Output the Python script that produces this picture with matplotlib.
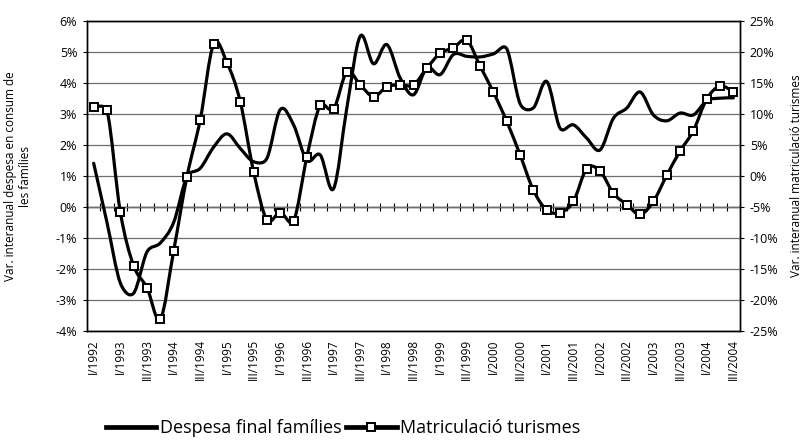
import matplotlib
matplotlib.use("Agg")
import matplotlib.pyplot as plt
from matplotlib.path import Path
from matplotlib.patches import PathPatch
from matplotlib.lines import Line2D
import numpy as np

plt.rcParams['font.family'] = ['Open Sans', 'DejaVu Sans']

# etiquetes de l'eix x (una cada dues categories)
etiquetes = ["I/1992", "I/1993", "III/1993", "I/1994", "III/1994", "I/1995",
             "III/1995", "I/1996", "III/1996", "I/1997", "III/1997", "I/1998",
             "III/1998", "I/1999", "III/1999", "I/2000", "III/2000", "I/2001",
             "III/2001", "I/2002", "III/2002", "I/2003", "III/2003", "I/2004",
             "III/2004"]

# variacio interanual despesa final families (%), eix esquerre
despesa = [1.41, -0.5, -2.45, -2.78, -1.45, -1.16, -0.5, 0.98, 1.25, 1.93,
           2.36, 1.89, 1.46, 1.57, 3.14, 2.65, 1.5, 1.68, 0.59, 3.2,
           5.51, 4.62, 5.24, 4.16, 3.62, 4.49, 4.27, 4.92, 4.86, 4.84,
           4.94, 5.1, 3.33, 3.2, 4.05, 2.54, 2.65, 2.22, 1.84, 2.86,
           3.19, 3.71, 2.97, 2.78, 3.03, 2.97, 3.43, 3.51, 3.52]

# variacio interanual matriculacio turismes (%), eix dret
matric = [11.2, 10.6, -5.8, -14.5, -18.0, -23.1, -12.1, -0.1, 9.1, 21.3,
          18.3, 12.0, 0.7, -7.1, -5.9, -7.3, 3.1, 11.4, 10.8, 16.8,
          14.7, 12.8, 14.4, 14.7, 14.7, 17.4, 19.8, 20.7, 21.9, 17.7,
          13.5, 8.8, 3.4, -2.3, -5.5, -5.9, -4.1, 1.2, 0.8, -2.8,
          -4.6, -6.2, -4.1, 0.1, 4.0, 7.3, 12.4, 14.5, 13.6]

x = np.arange(len(despesa))


def corba_suau(eix, xs, ys):
    # linia suavitzada a l'estil d'Excel: Bezier cubica calculada en pixels
    p = eix.transData.transform(np.column_stack([xs, ys]))
    n = len(p)
    verts = [p[0]]
    codes = [Path.MOVETO]
    for i in range(n - 1):
        p0 = p[i - 1] if i > 0 else p[i]
        p1 = p[i]
        p2 = p[i + 1]
        p3 = p[i + 2] if i + 2 < n else p[i + 1]
        d12 = np.hypot(*(p2 - p1))
        d02 = np.hypot(*(p2 - p0))
        d13 = np.hypot(*(p3 - p1))
        c1, c2 = p1.copy(), p2.copy()
        if d02 > 0:
            c1 = p1 + (p2 - p0) / d02 * min(d02 / 6.0, d12 / 2.0)
        if d13 > 0:
            c2 = p2 - (p3 - p1) / d13 * min(d13 / 6.0, d12 / 2.0)
        verts += [c1, c2, p2]
        codes += [Path.CURVE4] * 3
    verts = eix.transData.inverted().transform(np.array(verts))
    return Path(verts, codes)


fig = plt.figure(figsize=(8.07, 4.40), dpi=100)
ax = fig.add_axes([87 / 807, 1 - 331 / 440, 653 / 807, 310 / 440])

ax.set_xlim(-0.5, len(x) - 0.5)
ax.set_ylim(-4, 6)
ax.set_yticks(np.arange(-4, 7, 1))
ax.set_yticklabels(["%d%%" % v for v in range(-4, 7)])
ax.grid(axis='y', color='#6e6e6e', lw=0.9)
ax.set_axisbelow(True)

ax.set_xticks(x[::2])
ax.set_xticklabels(etiquetes, rotation=90, va='top', ha='center')
ax.tick_params(axis='x', length=0, pad=6, labelsize=8.5)
ax.tick_params(axis='y', direction='out', length=3, width=0.8, pad=4, labelsize=9)
for s in ax.spines.values():
    s.set_color('black')
    s.set_linewidth(1.0)

# eix de categories sobre el 0%
eix0 = ax.secondary_xaxis(0.4)
eix0.set_xticks(np.arange(-0.5, len(x), 1.0))
eix0.tick_params(direction='inout', length=6, width=0.8, labelbottom=False, labeltop=False)
eix0.spines['bottom'].set_linewidth(1.0)

ax2 = ax.twinx()
ax2.set_ylim(-25, 25)
ax2.set_yticks(np.arange(-25, 26, 5))
ax2.set_yticklabels(["%d%%" % v for v in range(-25, 26, 5)])
ax2.tick_params(axis='y', direction='out', length=3, width=0.8, pad=4, labelsize=9)
for s in ax2.spines.values():
    s.set_color('black')
    s.set_linewidth(1.0)

ax.add_patch(PathPatch(corba_suau(ax, x, despesa), fill=False, ec='black', lw=2.3,
                       capstyle='round', joinstyle='round'))
ax2.add_patch(PathPatch(corba_suau(ax2, x, matric), fill=False, ec='black', lw=2.3,
                        capstyle='round', joinstyle='round'))
ax2.plot(x, matric, ls='none', marker='s', ms=6, mfc='white', mec='black', mew=1.4,
         zorder=5)

fig.text(18 / 807, 1 - 176 / 440, "Var. interanual despesa en consum de\nles famílies",
         rotation=90, ha='center', va='center', multialignment='center', fontsize=8.5)
fig.text(797 / 807, 1 - 176 / 440, "Var. interanual matriculació turismes",
         rotation=90, ha='center', va='center', fontsize=8.5)

handles = [Line2D([], [], color='black', lw=3.4),
           Line2D([], [], color='black', lw=3.4, marker='s', ms=6, mfc='white',
                  mec='black', mew=1.4)]
fig.legend(handles, ["Despesa final famílies", "Matriculació turismes"],
           loc='center', bbox_to_anchor=(343 / 807, 1 - 428 / 440), ncol=2,
           frameon=False, fontsize=13, handlelength=2.8, handletextpad=0.2,
           columnspacing=0.25, borderpad=0)

fig.savefig("out.png", dpi=100)
